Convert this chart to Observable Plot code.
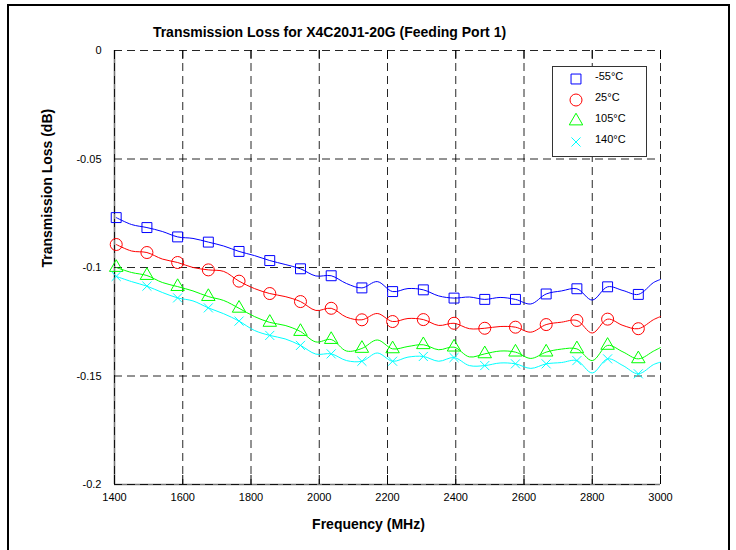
<!DOCTYPE html>
<html><head><meta charset="utf-8">
<script src="https://cdn.jsdelivr.net/npm/d3@7"></script>
<script src="https://cdn.jsdelivr.net/npm/@observablehq/plot@0.6"></script>
<style>
body{margin:0;background:#fff}
#chart{width:736px;height:550px;overflow:hidden}
</style>
</head><body><div id="chart"></div>
<script>
const titleText = "Transmission Loss for X4C20J1-20G (Feeding Port 1)";
const xLabel = "Frequency (MHz)";
const yLabel = "Transmission Loss (dB)";
const seriesNames = ["-55°C", "25°C", "105°C", "140°C"];
const seriesColors = ["#0000ff", "#ff0000", "#00ff00", "#00ffff"];
const seriesSymbols = ["square", "circle", "triangle", "times"];
const symbolRadius = [5.6, 6, 5, 4.2];
const xTicks = [1400, 1600, 1800, 2000, 2200, 2400, 2600, 2800, 3000];
const yTicks = [0, -0.05, -0.1, -0.15, -0.2];

const frequency = [1405,1450,1495,1540,1585,1630,1675,1720,1765,1810,1855,1900,1945,1990,2035,2080,2125,2170,2215,2260,2305,2350,2395,2440,2485,2530,2575,2620,2665,2710,2755,2800,2845,2890,2935,2980,3000];
const markerFreq = [1405,1495,1585,1675,1765,1855,1945,2035,2125,2215,2305,2395,2485,2575,2665,2755,2845,2935];

const lossM55 = [-0.0770,-0.0802,-0.0816,-0.0834,-0.0859,-0.0866,-0.0883,-0.0901,-0.0926,-0.0945,-0.0968,-0.0986,-0.1006,-0.1039,-0.1038,-0.1074,-0.1094,-0.1065,-0.1111,-0.1097,-0.1103,-0.1131,-0.1141,-0.1136,-0.1147,-0.1138,-0.1147,-0.1168,-0.1122,-0.1108,-0.1098,-0.1150,-0.1089,-0.1106,-0.1124,-0.1069,-0.1055];
const loss25 = [-0.0894,-0.0924,-0.0931,-0.0961,-0.0977,-0.1000,-0.1011,-0.1018,-0.1063,-0.1097,-0.1120,-0.1134,-0.1157,-0.1198,-0.1188,-0.1229,-0.1241,-0.1212,-0.1249,-0.1235,-0.1240,-0.1267,-0.1257,-0.1282,-0.1280,-0.1272,-0.1275,-0.1298,-0.1263,-0.1252,-0.1244,-0.1302,-0.1238,-0.1267,-0.1282,-0.1240,-0.1226];
const loss105 = [-0.1000,-0.1023,-0.1037,-0.1069,-0.1088,-0.1108,-0.1134,-0.1152,-0.1188,-0.1226,-0.1253,-0.1267,-0.1295,-0.1343,-0.1332,-0.1385,-0.1373,-0.1334,-0.1375,-0.1364,-0.1356,-0.1379,-0.1367,-0.1412,-0.1398,-0.1385,-0.1390,-0.1419,-0.1390,-0.1376,-0.1375,-0.1429,-0.1359,-0.1389,-0.1421,-0.1385,-0.1369];
const loss140 = [-0.1041,-0.1065,-0.1086,-0.1115,-0.1140,-0.1154,-0.1186,-0.1213,-0.1247,-0.1290,-0.1313,-0.1329,-0.1359,-0.1399,-0.1398,-0.1429,-0.1432,-0.1394,-0.1432,-0.1413,-0.1410,-0.1432,-0.1415,-0.1452,-0.1452,-0.1440,-0.1444,-0.1465,-0.1444,-0.1438,-0.1429,-0.1486,-0.1421,-0.1452,-0.1490,-0.1447,-0.1436];

const seriesValues = [lossM55, loss25, loss105, loss140];
const rows = [];
seriesNames.forEach((s, i) => {
  frequency.forEach((f, k) => rows.push({series: s, freq: f, loss: seriesValues[i][k]}));
});
const markerRows = rows.filter(d => markerFreq.includes(d.freq));

const font = "'Liberation Sans', Arial, Helvetica, sans-serif";
const dashStyle = {stroke: "#000", strokeOpacity: 0.85, strokeWidth: 1, strokeDasharray: "8,5"};

const plot = Plot.plot({
  width: 736, height: 550,
  marginLeft: 114, marginRight: 76, marginTop: 50, marginBottom: 66,
  style: {fontFamily: font, fontSize: "11px", background: "#fff", color: "#000", overflow: "visible"},
  x: {domain: [1400, 3000]},
  y: {domain: [-0.2, 0]},
  color: {domain: seriesNames, range: seriesColors},
  symbol: {domain: seriesNames, range: seriesSymbols},
  marks: [
    Plot.ruleX([1400], {stroke: "#777", strokeWidth: 1.6}),
    Plot.ruleY([-0.2], {stroke: "#777", strokeWidth: 1.6}),
    Plot.gridX(xTicks, dashStyle),
    Plot.gridY(yTicks, dashStyle),
    Plot.ruleX(xTicks, {insetTop: 425, stroke: "#000"}),
    Plot.ruleX(xTicks, {insetBottom: 425, stroke: "#000"}),
    Plot.axisX(xTicks, {tickSize: 0, tickPadding: 9, label: null, tickFormat: d => String(d), fontSize: 11}),
    Plot.axisY(yTicks, {tickSize: 0, tickPadding: 13, label: null, tickFormat: d => String(d), fontSize: 11}),
    Plot.line(rows, {x: "freq", y: "loss", z: "series", stroke: "series", curve: "catmull-rom", strokeWidth: 1}),
    ...seriesNames.map((s, i) => Plot.dot(markerRows.filter(d => d.series === s), {
      x: "freq", y: "loss", symbol: "series", stroke: "series", r: symbolRadius[i], strokeWidth: 1, fill: "none"
    })),
    Plot.text([titleText], {text: d => d, frameAnchor: "top", lineAnchor: "middle", dy: -18, dx: -58, fontWeight: "bold", fontSize: 14}),
    Plot.text([xLabel], {text: d => d, frameAnchor: "bottom", lineAnchor: "middle", dy: 40, dx: -19, fontWeight: "bold", fontSize: 14}),
    Plot.text([yLabel], {text: d => d, frameAnchor: "left", rotate: -90, dx: -67, fontWeight: "bold", fontSize: 14})
  ]
});

document.getElementById("chart").appendChild(plot);

// Legend
const svg = d3.select(plot);
const lg = svg.append("g").attr("font-family", font).attr("font-size", 11).attr("text-anchor", "start");
lg.append("rect").attr("x", 552.5).attr("y", 66.5).attr("width", 94).attr("height", 90)
  .attr("fill", "#fff").attr("stroke", "#333").attr("stroke-width", 1);
const symMap = {square: d3.symbolSquare, circle: d3.symbolCircle, triangle: d3.symbolTriangle, times: d3.symbolTimes};
seriesNames.forEach((s, i) => {
  const cy = 79 + i * 21;
  lg.append("path")
    .attr("transform", `translate(576,${cy})`)
    .attr("d", d3.symbol(symMap[seriesSymbols[i]], Math.PI * symbolRadius[i] ** 2)())
    .attr("fill", "none").attr("stroke", seriesColors[i]).attr("stroke-width", 1);
  lg.append("text").attr("x", 595).attr("y", cy + 1).attr("text-anchor", "start").attr("fill", "#000").text(s);
});

// outer frame
svg.append("path").attr("d", "M8,560V5H729V560").attr("fill", "none").attr("stroke", "#000").attr("stroke-width", 2);
</script>
</body></html>
